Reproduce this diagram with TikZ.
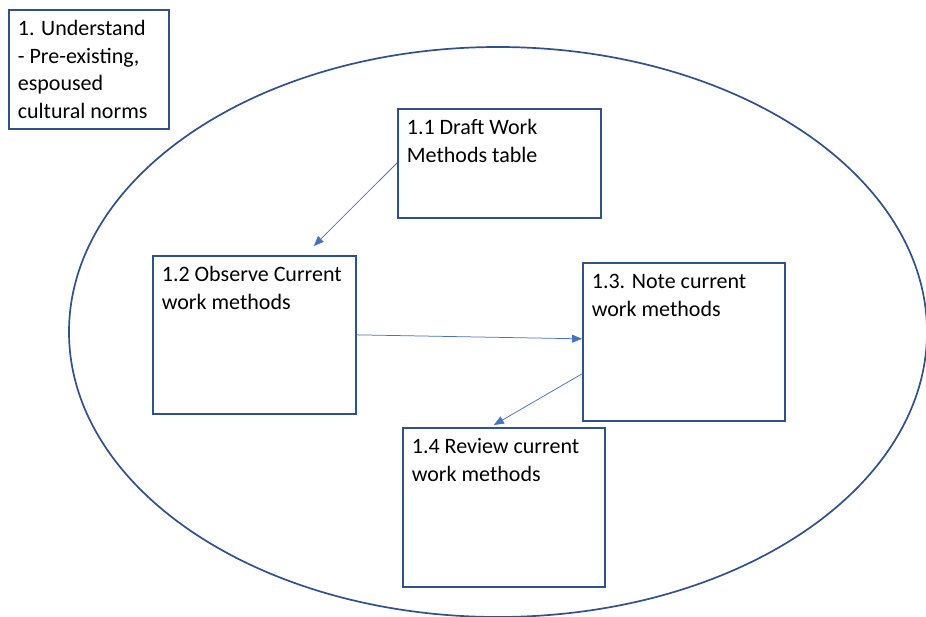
\documentclass[tikz,border=0pt]{standalone}
\usepackage{fontspec}
\setmainfont{Carlito}
\usetikzlibrary{arrows.meta,calc}
\definecolor{boxblue}{RGB}{47,82,143}
\definecolor{linkblue}{RGB}{68,114,196}
% top-aligned text block of a given width and height
\newcommand{\topblock}[3]{\parbox[c][#2][t]{#1}{\raggedright\rule{0pt}{26pt}#3}}
\begin{document}
\begin{tikzpicture}[x=1pt,y=-1pt,
  box/.style={draw=boxblue, line width=1.7pt, fill=white, anchor=north west,
    inner xsep=9pt, inner ysep=0pt, font=\fontsize{22}{27.5}\selectfont},
  link/.style={draw=linkblue, line width=0.75pt, -{Triangle[length=10pt,width=8pt]}}]
\useasboundingbox (0,0) rectangle (926,617);

% outer ellipse
\draw[boxblue, line width=1.7pt] (498,332) ellipse [x radius=429, y radius=285];

% boxes
\node[box] (b1)  at (8,9)     {\topblock{142pt}{119pt}{1. Understand\\- Pre-existing,\\espoused\\cultural norms}};
\node[box] (b11) at (397,108) {\topblock{185pt}{109pt}{1.1 Draft Work\\Methods table}};
\node[box] (b12) at (152,255) {\topblock{185pt}{158pt}{1.2 Observe Current\\work methods}};
\node[box] (b13) at (582,262) {\topblock{184pt}{158pt}{1.3. Note current\\work methods}};
\node[box] (b14) at (402,427) {\topblock{184pt}{159pt}{1.4 Review current\\work methods}};

% connectors
\draw[link] ($(b11.north west)+(0,55)$) -- ($(b12.north)+(59.5,-9)$);
\draw[link] (b12.east) -- ($(b13.west)+(0,-3)$);
\draw[link] ($(b13.west)+(0,32)$) -- ($(b14.north)+(-10,-2)$);
\end{tikzpicture}
\end{document}
